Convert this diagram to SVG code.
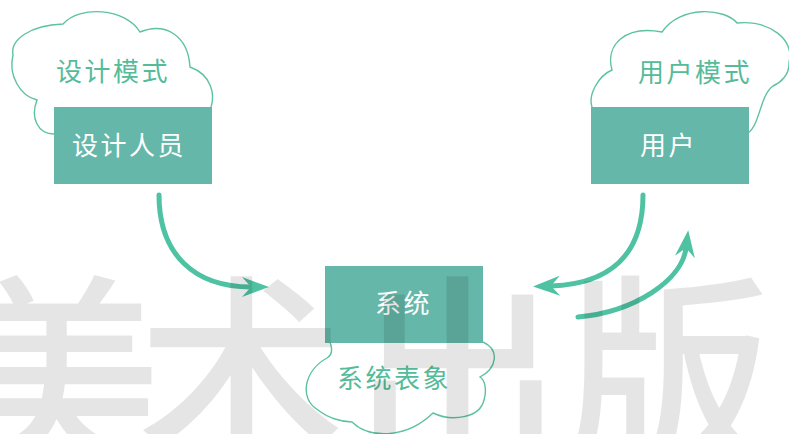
<svg xmlns="http://www.w3.org/2000/svg" width="789" height="434" viewBox="0 0 789 434">
<style>
.box{fill:#65b7a9}
.cloud{fill:none;stroke:#5cc2a2;stroke-width:1.4}
.ct{font-family:"Noto Sans CJK SC","Noto Sans CJK JP",sans-serif;font-size:26px;fill:#55bb99;letter-spacing:2.5px}
.bt{font-family:"Noto Sans CJK SC","Noto Sans CJK JP",sans-serif;font-size:26px;fill:#ffffff;letter-spacing:2.5px}
.arr{fill:none;stroke:#4ec2a2;stroke-width:5;stroke-linecap:round}
.wm{font-family:"Noto Sans CJK SC","Noto Sans CJK JP",sans-serif;font-size:208px;font-weight:500;fill:#000;fill-opacity:0.1;text-anchor:middle}
</style>
<defs>
<marker id="ah" markerUnits="userSpaceOnUse" markerWidth="30" markerHeight="22" refX="9" refY="10" orient="auto" overflow="visible">
<path d="M0,0 L27,10 L0,20 L9,10 Z" fill="#4ec2a2"/>
</marker>
</defs>
<g id="designer">
<path class="cloud" d="M54,134 C38,134 30,118 37,100 C20,96 8,75 13,55 C10,40 30,25 63,24 C80,5 125,8 140,32 C165,22 188,35 190,67 C212,75 215,95 211,107"/>
<text class="ct" x="56" y="81">设计模式</text>
<rect class="box" x="54" y="107" width="158" height="77"/>
<text class="bt" x="72" y="155">设计人员</text>
</g>
<g id="user">
<path class="cloud" d="M592,107 C588,95 598,76 612,70 C605,45 625,25 662,32 C680,5 725,8 737,23 C770,20 795,40 789,62 C790,75 780,83 773,86 C760,95 760,125 748,133"/>
<text class="ct" x="638" y="82">用户模式</text>
<rect class="box" x="591" y="107" width="158" height="77"/>
<text class="bt" x="640" y="155">用户</text>
</g>
<g id="system">
<path class="cloud" d="M330,342 C333,350 332,355 327,358 C305,370 298,398 318,410 C328,418 342,422 352,422 C368,438 405,440 433,413 C452,422 480,418 484,400 C487,390 485,380 480,377 C497,368 500,350 483,342"/>
<text class="ct" x="337" y="388">系统表象</text>
<rect class="box" x="325" y="266" width="158" height="77"/>
<text class="bt" x="375" y="313">系统</text>
</g>
<g id="connectors">
<path class="arr" d="M159,195 C159,255 195,287 251,287" marker-end="url(#ah)"/>
<path class="arr" d="M643,195 C643,255 610,284 551,286" marker-end="url(#ah)"/>
<path class="arr" d="M578,317 C635,312 682,280 686,248" marker-end="url(#ah)"/>
</g>
<g id="watermark">
<text class="wm" x="57" y="452">美</text>
<text class="wm" x="241" y="452">术</text>
<text class="wm" x="458" y="452">出</text>
<text class="wm" x="668" y="452">版</text>
</g>
</svg>
